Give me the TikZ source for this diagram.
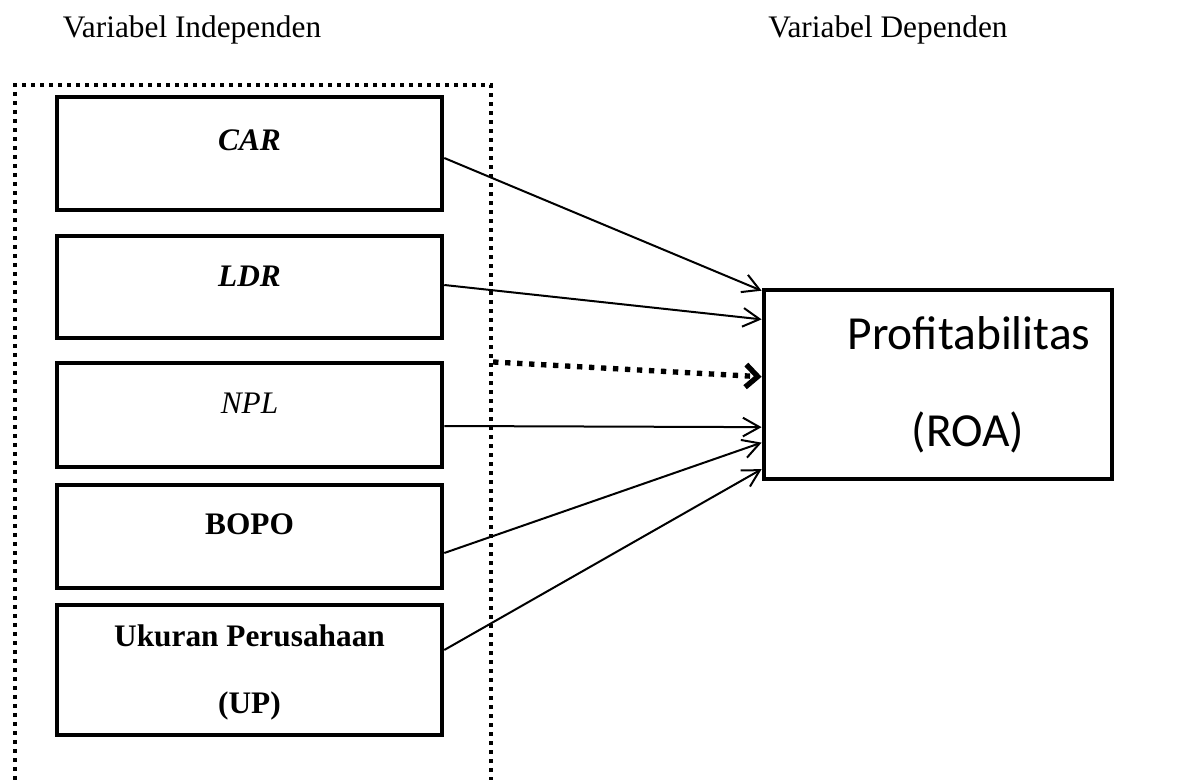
\documentclass[tikz,border=0pt]{standalone}
\usepackage{fontspec}
\setmainfont{Liberation Serif}
\newfontfamily\calibfont{Carlito}
\usetikzlibrary{arrows.meta,calc}
\begin{document}
\begin{tikzpicture}[x=0.75pt,y=-0.75pt,
  box/.style={draw,line width=3.4pt,minimum width=288.75pt,inner sep=0pt,fill=white},
  lbl/.style={font=\fontsize{23.5pt}{28pt}\selectfont\bfseries,inner sep=0pt},
  hdr/.style={font=\fontsize{23.5pt}{28pt}\selectfont,inner sep=0pt},
  conn/.style={line width=1.5pt,-{Straight Barb[length=12.5pt,width=14pt]}},
  dotconn/.style={line width=4pt,dash pattern=on 4pt off 5pt,
    -{Straight Barb[length=9pt,width=17pt,line width=4pt]}},
  grpbox/.style={draw,line width=3.2pt,dash pattern=on 3.2pt off 3.55pt,
    minimum width=357pt,minimum height=536.25pt,inner sep=0pt}]
\clip (0,0) rectangle (1178,780);
\fill[white] (0,0) rectangle (1178,780);
% headers
\node[hdr] (hind) at (192,30) {Variabel Independen};
\node[hdr] (hdep) at (888,30) {Variabel Dependen};
% group box
\node[grpbox] (grp) at (253,442.5) {};
% boxes
\node[box,minimum height=84.75pt] (car) at (249.5,153.5) {};
\node[box,minimum height=76.5pt] (ldr) at (249.5,287) {};
\node[box,minimum height=78pt] (npl) at (249.5,415) {};
\node[box,minimum height=77.25pt] (bopo) at (249.5,536.5) {};
\node[box,minimum height=97.5pt] (up) at (249.5,670) {};
\node[lbl] (cart) at (249.5,140) {\itshape CAR};
\node[lbl] (ldrt) at (249.5,276) {\itshape LDR};
\node[lbl] (nplt) at (249.5,403) {\itshape\mdseries NPL};
\node[lbl] (bopot) at (249.5,524) {BOPO};
\node[lbl] (upt1) at (249.5,636) {Ukuran Perusahaan};
\node[lbl] (upt2) at (249.5,706) {(UP)};
% dependent box
\node[draw,line width=3.6pt,minimum width=261pt,minimum height=141.75pt,inner sep=0pt,fill=white] (roa) at (938,384.5) {};
\node[font=\calibfont\fontsize{35.6pt}{40pt}\selectfont,inner sep=0pt] (roat1) at (969,333) {Profitabilitas};
\node[font=\calibfont\fontsize{35.6pt}{40pt}\selectfont,inner sep=0pt] (roat2) at (968,432) {(ROA)};
% connectors
\draw[conn] ($(car.east)+(0,4.5)$) -- ($(roa.north west)!0.016!(roa.south west)$);
\draw[conn] ($(ldr.east)+(0,-2)$) -- ($(roa.north west)!0.164!(roa.south west)$);
\draw[conn] ($(npl.east)+(0,11)$) -- ($(roa.north west)!0.72!(roa.south west)$);
\draw[conn] ($(bopo.east)+(0,16.5)$) -- ($(roa.north west)!0.80!(roa.south west)$);
\draw[conn] ($(up.east)+(0,-20)$) -- ($(roa.north west)!0.937!(roa.south west)$);
\draw[dotconn] ($(grp.east)+(0,-80.5)$) -- ($(roa.north west)!0.46!(roa.south west)$);
\end{tikzpicture}
\end{document}
